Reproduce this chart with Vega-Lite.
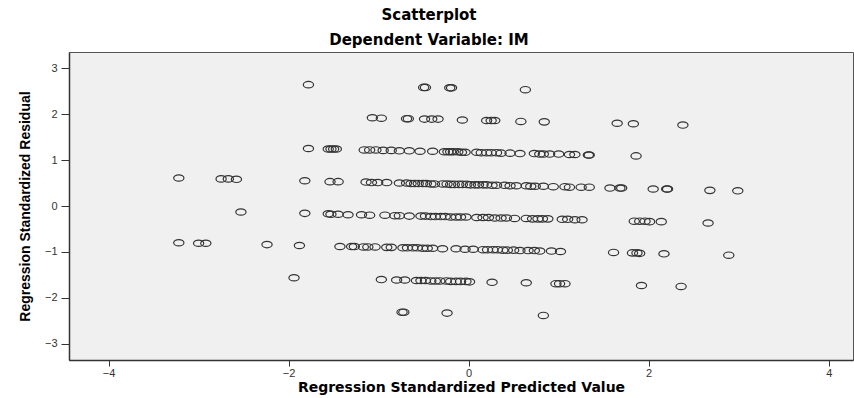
{
  "$schema": "https://vega.github.io/schema/vega-lite/v6.json",
  "autosize": {"type": "none"},
  "padding": {"left": 69, "top": 52, "right": 1, "bottom": 38},
  "width": 784,
  "height": 308,
  "background": "#ffffff",
  "title": {
    "text": "Scatterplot",
    "subtitle": "Dependent Variable: IM",
    "anchor": "middle",
    "dx": -32,
    "offset": 4,
    "font": "DejaVu Sans",
    "fontSize": 15,
    "fontWeight": "bold",
    "color": "#000000",
    "subtitleFont": "DejaVu Sans",
    "subtitleFontSize": 15,
    "subtitleFontWeight": "bold",
    "subtitleColor": "#000000",
    "subtitlePadding": 10
  },
  "config": {
    "view": {"fill": "#f0f0f0", "stroke": "#555555", "strokeWidth": 1},
    "axis": {
      "grid": false,
      "domainColor": "#333333",
      "domainWidth": 1.5,
      "tickColor": "#333333",
      "labelFont": "Liberation Sans",
      "labelFontSize": 11,
      "labelColor": "#333333",
      "titleColor": "#000000",
      "titleFontWeight": "bold"
    }
  },
  "data": {
    "values": [
      {"p": -1.78, "r": 2.64}, {"p": -0.5, "r": 2.58}, {"p": -0.48, "r": 2.58}, {"p": -0.21, "r": 2.57}, {"p": -0.19, "r": 2.57}, {"p": 0.63, "r": 2.53},
      {"p": -1.07, "r": 1.92}, {"p": -0.97, "r": 1.91}, {"p": -0.69, "r": 1.9}, {"p": -0.67, "r": 1.9}, {"p": -0.49, "r": 1.89}, {"p": -0.41, "r": 1.89}, {"p": -0.34, "r": 1.89}, {"p": -0.07, "r": 1.87}, {"p": 0.2, "r": 1.86}, {"p": 0.25, "r": 1.86}, {"p": 0.29, "r": 1.86}, {"p": 0.58, "r": 1.84}, {"p": 0.84, "r": 1.83}, {"p": 1.65, "r": 1.8}, {"p": 1.83, "r": 1.79}, {"p": 2.38, "r": 1.76},
      {"p": -1.78, "r": 1.25}, {"p": -1.56, "r": 1.24}, {"p": -1.53, "r": 1.24}, {"p": -1.5, "r": 1.24}, {"p": -1.47, "r": 1.24}, {"p": -1.16, "r": 1.22}, {"p": -1.1, "r": 1.22}, {"p": -1.03, "r": 1.22}, {"p": -0.95, "r": 1.21}, {"p": -0.86, "r": 1.21}, {"p": -0.77, "r": 1.2}, {"p": -0.66, "r": 1.2}, {"p": -0.54, "r": 1.19}, {"p": -0.4, "r": 1.19}, {"p": -0.27, "r": 1.18}, {"p": -0.23, "r": 1.18}, {"p": -0.2, "r": 1.18}, {"p": -0.17, "r": 1.18}, {"p": -0.12, "r": 1.18}, {"p": -0.08, "r": 1.17}, {"p": -0.04, "r": 1.17}, {"p": 0.09, "r": 1.17}, {"p": 0.14, "r": 1.16}, {"p": 0.2, "r": 1.16}, {"p": 0.25, "r": 1.16}, {"p": 0.31, "r": 1.16}, {"p": 0.36, "r": 1.15}, {"p": 0.46, "r": 1.15}, {"p": 0.57, "r": 1.14}, {"p": 0.73, "r": 1.14}, {"p": 0.79, "r": 1.13}, {"p": 0.83, "r": 1.13}, {"p": 0.9, "r": 1.13}, {"p": 1.0, "r": 1.13}, {"p": 1.12, "r": 1.12}, {"p": 1.18, "r": 1.12}, {"p": 1.33, "r": 1.11}, {"p": 1.34, "r": 1.11}, {"p": 1.86, "r": 1.09},
      {"p": -3.22, "r": 0.61}, {"p": -2.75, "r": 0.59}, {"p": -2.67, "r": 0.59}, {"p": -2.58, "r": 0.58}, {"p": -1.82, "r": 0.55}, {"p": -1.54, "r": 0.53}, {"p": -1.45, "r": 0.53}, {"p": -1.14, "r": 0.52}, {"p": -1.08, "r": 0.51}, {"p": -1.01, "r": 0.51}, {"p": -0.91, "r": 0.51}, {"p": -0.77, "r": 0.5}, {"p": -0.69, "r": 0.5}, {"p": -0.64, "r": 0.49}, {"p": -0.6, "r": 0.49}, {"p": -0.56, "r": 0.49}, {"p": -0.51, "r": 0.49}, {"p": -0.47, "r": 0.49}, {"p": -0.42, "r": 0.48}, {"p": -0.38, "r": 0.48}, {"p": -0.29, "r": 0.48}, {"p": -0.24, "r": 0.48}, {"p": -0.2, "r": 0.47}, {"p": -0.16, "r": 0.47}, {"p": -0.11, "r": 0.47}, {"p": -0.07, "r": 0.47}, {"p": -0.02, "r": 0.47}, {"p": 0.02, "r": 0.46}, {"p": 0.07, "r": 0.46}, {"p": 0.11, "r": 0.46}, {"p": 0.16, "r": 0.46}, {"p": 0.2, "r": 0.46}, {"p": 0.26, "r": 0.45}, {"p": 0.31, "r": 0.45}, {"p": 0.4, "r": 0.45}, {"p": 0.46, "r": 0.44}, {"p": 0.53, "r": 0.44}, {"p": 0.64, "r": 0.44}, {"p": 0.69, "r": 0.43}, {"p": 0.74, "r": 0.43}, {"p": 0.83, "r": 0.43}, {"p": 0.94, "r": 0.42}, {"p": 1.07, "r": 0.42}, {"p": 1.12, "r": 0.41}, {"p": 1.25, "r": 0.41}, {"p": 1.34, "r": 0.41}, {"p": 1.57, "r": 0.39}, {"p": 1.68, "r": 0.39}, {"p": 1.7, "r": 0.39}, {"p": 2.05, "r": 0.37}, {"p": 2.2, "r": 0.37}, {"p": 2.21, "r": 0.37}, {"p": 2.68, "r": 0.34}, {"p": 2.99, "r": 0.33},
      {"p": -2.53, "r": -0.13}, {"p": -1.82, "r": -0.16}, {"p": -1.56, "r": -0.17}, {"p": -1.53, "r": -0.18}, {"p": -1.45, "r": -0.18}, {"p": -1.34, "r": -0.19}, {"p": -1.19, "r": -0.19}, {"p": -1.1, "r": -0.2}, {"p": -0.93, "r": -0.2}, {"p": -0.82, "r": -0.21}, {"p": -0.77, "r": -0.21}, {"p": -0.66, "r": -0.22}, {"p": -0.53, "r": -0.22}, {"p": -0.48, "r": -0.22}, {"p": -0.42, "r": -0.23}, {"p": -0.37, "r": -0.23}, {"p": -0.31, "r": -0.23}, {"p": -0.26, "r": -0.23}, {"p": -0.2, "r": -0.24}, {"p": -0.14, "r": -0.24}, {"p": -0.09, "r": -0.24}, {"p": -0.03, "r": -0.24}, {"p": 0.09, "r": -0.25}, {"p": 0.16, "r": -0.25}, {"p": 0.22, "r": -0.25}, {"p": 0.29, "r": -0.26}, {"p": 0.36, "r": -0.26}, {"p": 0.42, "r": -0.26}, {"p": 0.51, "r": -0.27}, {"p": 0.64, "r": -0.27}, {"p": 0.71, "r": -0.28}, {"p": 0.77, "r": -0.28}, {"p": 0.82, "r": -0.28}, {"p": 0.88, "r": -0.28}, {"p": 1.04, "r": -0.29}, {"p": 1.1, "r": -0.29}, {"p": 1.18, "r": -0.3}, {"p": 1.26, "r": -0.3}, {"p": 1.84, "r": -0.33}, {"p": 1.9, "r": -0.33}, {"p": 1.96, "r": -0.33}, {"p": 2.01, "r": -0.34}, {"p": 2.14, "r": -0.34}, {"p": 2.66, "r": -0.37},
      {"p": -3.22, "r": -0.8}, {"p": -3.0, "r": -0.81}, {"p": -2.92, "r": -0.81}, {"p": -2.24, "r": -0.84}, {"p": -1.88, "r": -0.86}, {"p": -1.43, "r": -0.88}, {"p": -1.3, "r": -0.88}, {"p": -1.27, "r": -0.88}, {"p": -1.17, "r": -0.89}, {"p": -1.12, "r": -0.89}, {"p": -1.04, "r": -0.89}, {"p": -0.91, "r": -0.9}, {"p": -0.86, "r": -0.9}, {"p": -0.73, "r": -0.91}, {"p": -0.68, "r": -0.91}, {"p": -0.62, "r": -0.91}, {"p": -0.57, "r": -0.91}, {"p": -0.51, "r": -0.92}, {"p": -0.46, "r": -0.92}, {"p": -0.4, "r": -0.92}, {"p": -0.29, "r": -0.93}, {"p": -0.14, "r": -0.93}, {"p": -0.04, "r": -0.94}, {"p": 0.05, "r": -0.94}, {"p": 0.16, "r": -0.95}, {"p": 0.21, "r": -0.95}, {"p": 0.27, "r": -0.95}, {"p": 0.32, "r": -0.95}, {"p": 0.38, "r": -0.96}, {"p": 0.43, "r": -0.96}, {"p": 0.5, "r": -0.96}, {"p": 0.57, "r": -0.97}, {"p": 0.66, "r": -0.97}, {"p": 0.73, "r": -0.97}, {"p": 0.79, "r": -0.98}, {"p": 0.92, "r": -0.98}, {"p": 1.02, "r": -0.99}, {"p": 1.61, "r": -1.01}, {"p": 1.82, "r": -1.02}, {"p": 1.87, "r": -1.02}, {"p": 1.9, "r": -1.03}, {"p": 2.17, "r": -1.04}, {"p": 2.89, "r": -1.07},
      {"p": -1.94, "r": -1.56}, {"p": -0.97, "r": -1.6}, {"p": -0.8, "r": -1.61}, {"p": -0.71, "r": -1.61}, {"p": -0.58, "r": -1.62}, {"p": -0.53, "r": -1.62}, {"p": -0.48, "r": -1.62}, {"p": -0.42, "r": -1.63}, {"p": -0.37, "r": -1.63}, {"p": -0.32, "r": -1.63}, {"p": -0.25, "r": -1.63}, {"p": -0.2, "r": -1.64}, {"p": -0.14, "r": -1.64}, {"p": -0.09, "r": -1.64}, {"p": -0.03, "r": -1.64}, {"p": 0.01, "r": -1.65}, {"p": 0.26, "r": -1.66}, {"p": 0.64, "r": -1.67}, {"p": 0.97, "r": -1.69}, {"p": 1.01, "r": -1.69}, {"p": 1.07, "r": -1.69}, {"p": 1.92, "r": -1.73}, {"p": 2.36, "r": -1.75},
      {"p": -0.74, "r": -2.31}, {"p": -0.72, "r": -2.31}, {"p": -0.24, "r": -2.33}, {"p": 0.83, "r": -2.38}
    ]
  },
  "mark": {
    "type": "point",
    "shape": "M-1,0A1,0.62 0 1,1 1,0A1,0.62 0 1,1 -1,0Z",
    "size": 105,
    "filled": false,
    "stroke": "#333333",
    "strokeWidth": 1.2,
    "opacity": 1
  },
  "encoding": {
    "x": {
      "field": "p",
      "type": "quantitative",
      "scale": {"domain": [-4.44, 4.27], "nice": false, "zero": false},
      "axis": {
        "values": [-4, -2, 0, 2, 4],
        "tickSize": 6,
        "labelPadding": 1,
        "title": "Regression Standardized Predicted Value",
        "titleFont": "DejaVu Sans",
        "titleFontSize": 14,
        "titlePadding": 2
      }
    },
    "y": {
      "field": "r",
      "type": "quantitative",
      "scale": {"domain": [-3.35, 3.35], "nice": false, "zero": false},
      "axis": {
        "values": [-3, -2, -1, 0, 1, 2, 3],
        "tickSize": 8,
        "labelPadding": 4,
        "title": "Regression Standardized Residual",
        "titleFont": "Liberation Sans",
        "titleFontSize": 14,
        "titlePadding": 12
      }
    }
  }
}
